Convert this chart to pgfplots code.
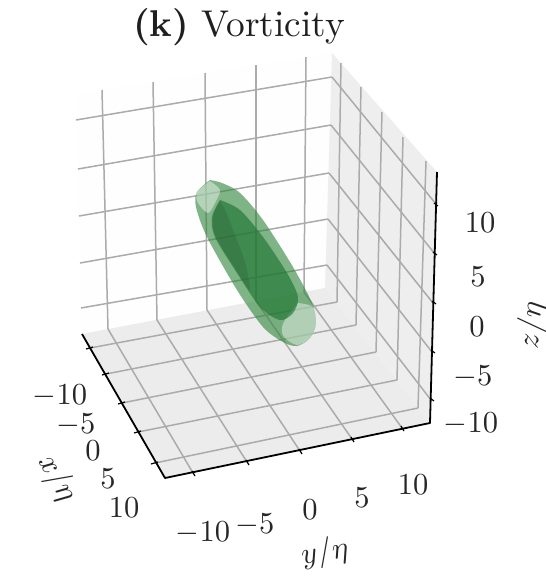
\documentclass[border=0pt]{standalone}
\usepackage{pgfplots}
\pgfplotsset{compat=1.18}
\definecolor{wallR}{HTML}{EEEEEE}
\definecolor{floorC}{HTML}{ECECEC}
\definecolor{wallL}{HTML}{FEFEFE}
\definecolor{gridc}{HTML}{ABABAB}
\begin{document}
\begin{tikzpicture}[x=1pt,y=1pt]
\path[use as bounding box,fill=white] (0,0) rectangle (546,582);
\begin{axis}[at={(0,0)},anchor=south west,scale only axis,width=546pt,height=582pt,
 xmin=0,xmax=546,ymin=0,ymax=582,y dir=reverse,hide axis,clip=false]
% panes
\addplot[fill=wallL,draw=none] coordinates {(76,94)(332,53)(325,288)(82,334)} --cycle;
\addplot[fill=wallR,draw=none] coordinates {(332,53)(437,172)(430,423)(325,288)} --cycle;
\addplot[fill=floorC,draw=none] coordinates {(82,334)(325,288)(430,423)(165,478)} --cycle;
% grid left wall horizontals
\addplot[gridc,line width=1.5pt] coordinates {(76,120)(332,77)};
\addplot[gridc,line width=1.5pt] coordinates {(78,169)(331,125)};
\addplot[gridc,line width=1.5pt] coordinates {(79,216)(329,173)};
\addplot[gridc,line width=1.5pt] coordinates {(80,263)(328,219)};
\addplot[gridc,line width=1.5pt] coordinates {(81,308)(327,265)};
% left wall verticals
\addplot[gridc,line width=1.5pt] coordinates {(102,90)(108,329)};
\addplot[gridc,line width=1.5pt] coordinates {(153,82)(157,320)};
\addplot[gridc,line width=1.5pt] coordinates {(205,73)(207,310)};
\addplot[gridc,line width=1.5pt] coordinates {(256,65)(256,301)};
\addplot[gridc,line width=1.5pt] coordinates {(306,57)(304,292)};
% right wall horizontals
\addplot[gridc,line width=1.5pt] coordinates {(332,77)(436,204)};
\addplot[gridc,line width=1.5pt] coordinates {(331,125)(435,254)};
\addplot[gridc,line width=1.5pt] coordinates {(329,173)(433,303)};
\addplot[gridc,line width=1.5pt] coordinates {(328,219)(432,352)};
\addplot[gridc,line width=1.5pt] coordinates {(327,265)(431,400)};
% right wall verticals
\addplot[gridc,line width=1.5pt] coordinates {(337,302)(341,63)};
\addplot[gridc,line width=1.5pt] coordinates {(356,325)(361,87)};
\addplot[gridc,line width=1.5pt] coordinates {(376,352)(382,112)};
\addplot[gridc,line width=1.5pt] coordinates {(397,380)(403,137)};
\addplot[gridc,line width=1.5pt] coordinates {(418,408)(426,161)};
% floor
\addplot[gridc,line width=1.5pt] coordinates {(90,348)(337,302)};
\addplot[gridc,line width=1.5pt] coordinates {(106,374)(356,325)};
\addplot[gridc,line width=1.5pt] coordinates {(122,403)(376,352)};
\addplot[gridc,line width=1.5pt] coordinates {(138,432)(397,380)};
\addplot[gridc,line width=1.5pt] coordinates {(155,463)(418,408)};
\addplot[gridc,line width=1.5pt] coordinates {(193,473)(108,329)};
\addplot[gridc,line width=1.5pt] coordinates {(247,462)(157,320)};
\addplot[gridc,line width=1.5pt] coordinates {(300,451)(207,310)};
\addplot[gridc,line width=1.5pt] coordinates {(352,439)(256,301)};
\addplot[gridc,line width=1.5pt] coordinates {(402,428)(304,292)};
% outer surface
\addplot[fill={rgb,255:red,50;green,135;blue,62},fill opacity=0.62,draw=none,smooth,tension=0.5] coordinates {
(210,180)(222,183)(240,193)(263,220)(293,267)(312,303)(316,323)(310,338)(297,346)(283,342)(263,327)(237,290)(207,237)(196,207)(197,192)(210,180)} --cycle;
% end caps (lighter, whitened)
\addplot[fill=white,fill opacity=0.42,draw=none,smooth,tension=0.5] coordinates {
(210,181)(220,190)(215,203)(208,213)(198,203)(197,192)(210,181)} --cycle;
\addplot[fill=white,fill opacity=0.42,draw=none,smooth,tension=0.5] coordinates {
(298,303)(313,307)(316,323)(310,338)(297,345)(284,337)(282,327)(287,317)(298,303)} --cycle;
% inner surface
\addplot[fill={rgb,255:red,25;green,115;blue,45},fill opacity=0.62,draw=none,smooth,tension=0.5] coordinates {
(220,200)(212,217)(215,237)(237,273)(260,307)(280,320)(293,313)(298,297)(287,273)(263,237)(240,210)(220,200)} --cycle;
\addplot[fill={rgb,255:red,45;green,80;blue,50},fill opacity=0.25,draw=none,smooth,tension=0.5] coordinates {
(220,201)(213,217)(216,237)(238,273)(250,290)(245,262)(235,235)(226,212)(220,201)} --cycle;
% axes lines
\addplot[black,line width=1.8pt,line join=round] coordinates {(82,334)(165,478)(430,423)(437,172)};
% ticks
\addplot[black,line width=1.2pt] coordinates {(86,349)(93,347)};
\addplot[black,line width=1.2pt] coordinates {(102,375)(109,373)};
\addplot[black,line width=1.2pt] coordinates {(118,404)(125,402)};
\addplot[black,line width=1.2pt] coordinates {(134,433)(141,431)};
\addplot[black,line width=1.2pt] coordinates {(151,464)(158,462)};
\addplot[black,line width=1.2pt] coordinates {(192,471)(195,476)};
\addplot[black,line width=1.2pt] coordinates {(246,460)(249,465)};
\addplot[black,line width=1.2pt] coordinates {(299,449)(302,454)};
\addplot[black,line width=1.2pt] coordinates {(351,437)(354,442)};
\addplot[black,line width=1.2pt] coordinates {(401,426)(404,431)};
\addplot[black,line width=1.2pt] coordinates {(434,203)(438,206)};
\addplot[black,line width=1.2pt] coordinates {(433,252)(437,255)};
\addplot[black,line width=1.2pt] coordinates {(432,301)(436,304)};
\addplot[black,line width=1.2pt] coordinates {(431,350)(435,353)};
\addplot[black,line width=1.2pt] coordinates {(430,398)(434,401)};
% text
\tikzset{tl/.style={scale=3.05,inner sep=0pt,text=black!85}}
\node[scale=3.73,inner sep=0pt,text=black!88] at (axis cs:239,27) {\textbf{(k)} Vorticity};
\node[tl] at (axis cs:60,396) {$-10$};
\node[tl] at (axis cs:76,425) {$-5$};
\node[tl] at (axis cs:93,451) {$0$};
\node[tl] at (axis cs:108,479) {$5$};
\node[tl] at (axis cs:124,508) {$10$};
\node[tl] at (axis cs:203,533) {$-10$};
\node[tl] at (axis cs:255,525) {$-5$};
\node[tl] at (axis cs:310,510) {$0$};
\node[tl] at (axis cs:362,498) {$5$};
\node[tl] at (axis cs:413,485) {$10$};
\node[tl] at (axis cs:471,424) {$-10$};
\node[tl] at (axis cs:473,377) {$-5$};
\node[tl] at (axis cs:477,327) {$0$};
\node[tl] at (axis cs:478,277) {$5$};
\node[tl] at (axis cs:480,223) {$10$};
\node[tl,rotate=-60] at (axis cs:57,479) {$x/\eta$};
\node[tl,rotate=10] at (axis cs:325,553) {$y/\eta$};
\node[tl,rotate=85] at (axis cs:532,325) {$z/\eta$};
\end{axis}
\end{tikzpicture}
\end{document}
